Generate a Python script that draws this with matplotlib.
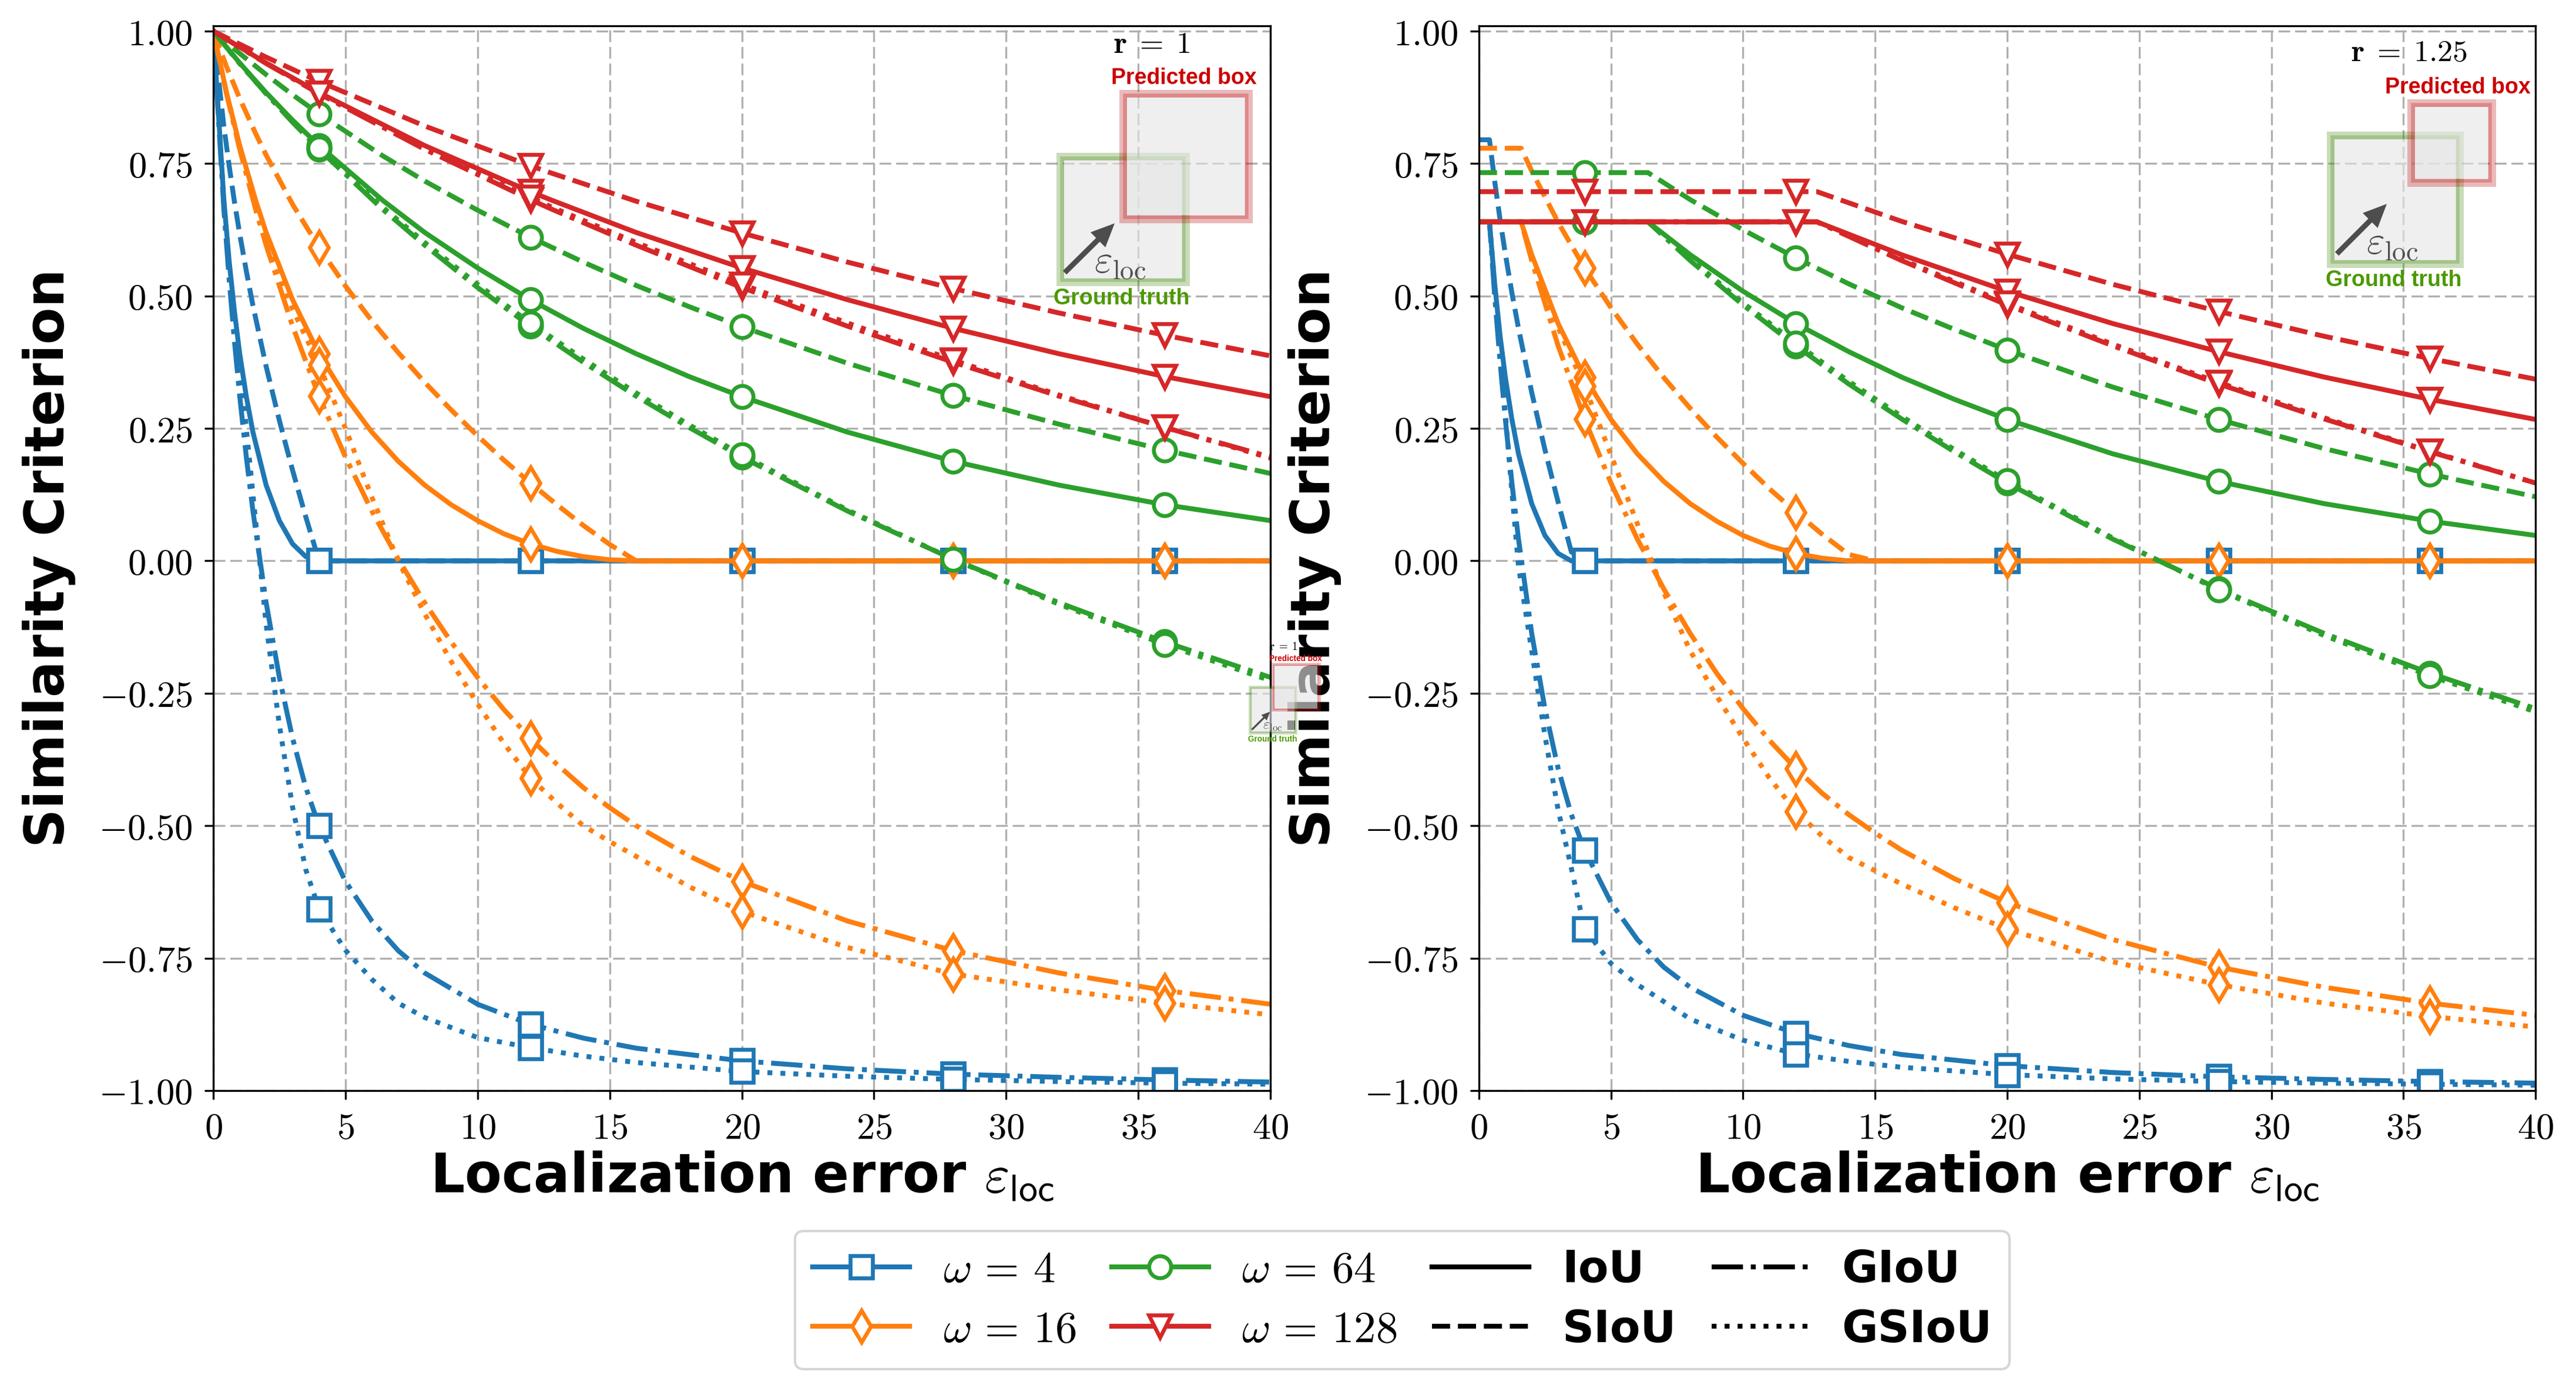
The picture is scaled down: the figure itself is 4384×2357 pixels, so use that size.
import matplotlib
matplotlib.use("Agg")
import matplotlib.pyplot as plt
from matplotlib.lines import Line2D
from matplotlib.patches import Rectangle, FancyArrow

# ---- data ------------------------------------------------------------------
OMEGAS = [4, 16, 64, 128]
MARK_X = [4, 12, 20, 28, 36]

X4 = [0, 0.4, 0.6, 0.8, 1, 1.25, 1.5, 2, 2.5, 3, 3.5, 4, 5, 6, 7, 8, 10, 12, 14, 16, 20, 24, 28, 32, 36, 40]
X16 = [0, 0.5, 1, 1.6, 2, 3, 4, 5, 6, 7, 8, 9, 10, 11, 12, 13, 14, 15, 16, 18, 20, 24, 28, 32, 36, 40]
X64 = [0, 1, 2, 3, 4, 6.4, 8, 10, 12, 14, 16, 18, 20, 24, 28, 32, 36, 40]
X128 = [0, 2, 4, 8, 12, 12.8, 16, 20, 24, 28, 32, 36, 40]

# left panel, r = 1
IOU_R1 = {
    4: [1.0, 0.681, 0.566, 0.471, 0.391, 0.310, 0.243, 0.143, 0.076, 0.032, 0.008, 0, 0, 0, 0, 0, 0, 0, 0, 0, 0, 0, 0, 0, 0, 0],
    16: [1.0, 0.884, 0.784, 0.681, 0.620, 0.493, 0.391, 0.310, 0.243, 0.188, 0.143, 0.106, 0.076, 0.051, 0.032,
         0.018, 0.008, 0.002, 0, 0, 0, 0, 0, 0, 0, 0],
    64: [1.0, 0.940, 0.884, 0.832, 0.784, 0.681, 0.620, 0.553, 0.493, 0.439, 0.391, 0.348, 0.310, 0.243, 0.188,
         0.143, 0.106, 0.076],
    128: [1.0, 0.940, 0.884, 0.784, 0.697, 0.681, 0.620, 0.553, 0.493, 0.439, 0.391, 0.348, 0.310],
}
SIOU_R1 = {
    4: [1.0, 0.820, 0.746, 0.678, 0.617, 0.547, 0.482, 0.367, 0.265, 0.171, 0.083, 0, 0, 0, 0, 0, 0, 0, 0, 0, 0, 0, 0, 0, 0, 0],
    16: [1.0, 0.933, 0.873, 0.807, 0.766, 0.673, 0.592, 0.519, 0.453, 0.393, 0.337, 0.285, 0.236, 0.190, 0.147,
         0.106, 0.067, 0.031, 0, 0, 0, 0, 0, 0, 0, 0],
    64: [1.0, 0.958, 0.918, 0.880, 0.844, 0.765, 0.717, 0.662, 0.611, 0.564, 0.520, 0.480, 0.442, 0.373, 0.312,
         0.258, 0.209, 0.165],
    128: [1.0, 0.951, 0.905, 0.821, 0.746, 0.732, 0.679, 0.619, 0.564, 0.514, 0.468, 0.426, 0.387],
}
GIOU_R1 = {
    4: [1.0, 0.664, 0.532, 0.415, 0.311, 0.196, 0.094, -0.079, -0.220, -0.335, -0.428, -0.5, -0.605, -0.68, -0.736,
        -0.778, -0.837, -0.875, -0.901, -0.92, -0.944, -0.959, -0.969, -0.975, -0.98, -0.984],
    16: [1.0, 0.882, 0.777, 0.664, 0.596, 0.443, 0.311, 0.196, 0.094, 0.003, -0.079, -0.153, -0.220, -0.281, -0.335,
         -0.384, -0.428, -0.466, -0.5, -0.557, -0.605, -0.68, -0.736, -0.778, -0.811, -0.837],
    64: [1.0, 0.939, 0.882, 0.828, 0.777, 0.664, 0.596, 0.516, 0.443, 0.375, 0.311, 0.252, 0.196, 0.094, 0.003,
         -0.079, -0.153, -0.220],
    128: [1.0, 0.939, 0.882, 0.777, 0.682, 0.664, 0.596, 0.516, 0.443, 0.375, 0.311, 0.252, 0.196],
}
GSIOU_R1 = {
    4: [1.0, 0.678, 0.56, 0.462, 0.37, 0.25, 0.125, -0.12, -0.31, -0.465, -0.583, -0.657, -0.735, -0.79, -0.835,
        -0.862, -0.90, -0.919, -0.935, -0.947, -0.964, -0.973, -0.979, -0.983, -0.986, -0.988],
    16: [1.0, 0.883, 0.782, 0.676, 0.612, 0.475, 0.37, 0.25, 0.12, 0.0, -0.10, -0.19, -0.27, -0.345, -0.41,
         -0.457, -0.50, -0.53, -0.558, -0.615, -0.662, -0.73, -0.78, -0.81, -0.835, -0.857],
    64: [1.0, 0.939, 0.882, 0.829, 0.779, 0.668, 0.601, 0.522, 0.449, 0.381, 0.317, 0.257, 0.200, 0.096, 0.003,
         -0.082, -0.158, -0.226],
    128: [1.0, 0.94, 0.883, 0.779, 0.686, 0.668, 0.601, 0.522, 0.449, 0.379, 0.313, 0.252, 0.194],
}

# right panel, r = 1.25
IOU_R125 = {
    4: [0.64, 0.64, 0.522, 0.426, 0.347, 0.267, 0.202, 0.108, 0.048, 0.014, 0.0, 0, 0, 0, 0, 0, 0, 0, 0, 0, 0, 0, 0, 0, 0, 0],
    16: [0.64, 0.64, 0.64, 0.64, 0.578, 0.448, 0.347, 0.267, 0.202, 0.150, 0.108, 0.075, 0.048, 0.028, 0.014,
         0.005, 0.0, 0, 0, 0, 0, 0, 0, 0, 0, 0],
    64: [0.64, 0.64, 0.64, 0.64, 0.64, 0.64, 0.578, 0.509, 0.448, 0.395, 0.347, 0.305, 0.267, 0.202, 0.150,
         0.108, 0.075, 0.048],
    128: [0.64, 0.64, 0.64, 0.64, 0.64, 0.64, 0.578, 0.509, 0.448, 0.395, 0.347, 0.305, 0.267],
}
SIOU_R125 = {
    4: [0.795, 0.795, 0.716, 0.645, 0.580, 0.506, 0.439, 0.318, 0.210, 0.111, 0.017, 0, 0, 0, 0, 0, 0, 0, 0, 0, 0, 0, 0, 0, 0, 0],
    16: [0.779, 0.779, 0.779, 0.779, 0.736, 0.639, 0.553, 0.478, 0.409, 0.346, 0.288, 0.234, 0.184, 0.136, 0.092,
         0.050, 0.012, 0, 0, 0, 0, 0, 0, 0, 0, 0],
    64: [0.733, 0.733, 0.733, 0.733, 0.733, 0.733, 0.682, 0.625, 0.572, 0.523, 0.478, 0.437, 0.398, 0.328, 0.267,
         0.212, 0.164, 0.121],
    128: [0.697, 0.697, 0.697, 0.697, 0.697, 0.697, 0.641, 0.579, 0.522, 0.471, 0.424, 0.382, 0.343],
}
GIOU_R125 = {
    4: [0.64, 0.64, 0.499, 0.377, 0.268, 0.147, 0.041, -0.137, -0.279, -0.392, -0.479, -0.546, -0.645, -0.715, -0.767,
        -0.805, -0.858, -0.892, -0.915, -0.932, -0.953, -0.966, -0.974, -0.979, -0.983, -0.986],
    16: [0.64, 0.64, 0.64, 0.64, 0.567, 0.406, 0.268, 0.147, 0.041, -0.053, -0.137, -0.212, -0.279, -0.339, -0.392,
         -0.439, -0.479, -0.514, -0.546, -0.600, -0.645, -0.715, -0.767, -0.805, -0.835, -0.858],
    64: [0.64, 0.64, 0.64, 0.64, 0.64, 0.64, 0.567, 0.483, 0.406, 0.334, 0.268, 0.206, 0.147, 0.041, -0.053,
         -0.137, -0.212, -0.279],
    128: [0.64, 0.64, 0.64, 0.64, 0.64, 0.64, 0.567, 0.483, 0.406, 0.334, 0.268, 0.206, 0.147],
}
GSIOU_R125 = {
    4: [0.64, 0.64, 0.52, 0.40, 0.28, 0.13, -0.01, -0.17, -0.33, -0.47, -0.58, -0.695, -0.76, -0.80, -0.832,
        -0.865, -0.905, -0.931, -0.945, -0.956, -0.970, -0.978, -0.983, -0.986, -0.988, -0.990],
    16: [0.64, 0.64, 0.64, 0.64, 0.575, 0.44, 0.33, 0.20, 0.07, -0.06, -0.17, -0.255, -0.335, -0.41, -0.473,
         -0.52, -0.56, -0.585, -0.61, -0.655, -0.695, -0.757, -0.80, -0.835, -0.86, -0.88],
    64: [0.64, 0.64, 0.64, 0.64, 0.64, 0.64, 0.570, 0.487, 0.411, 0.339, 0.273, 0.210, 0.151, 0.043, -0.055,
         -0.141, -0.217, -0.285],
    128: [0.64, 0.64, 0.64, 0.64, 0.64, 0.64, 0.569, 0.486, 0.409, 0.337, 0.27, 0.207, 0.147],
}

XS = {4: X4, 16: X16, 64: X64, 128: X128}
YTICKS = [-1.0, -0.75, -0.5, -0.25, 0.0, 0.25, 0.5, 0.75, 1.0]
XTICKS = [0, 5, 10, 15, 20, 25, 30, 35, 40]

# ---- style ------------------------------------------------------------------
COLORS = {4: "#1f77b4", 16: "#ff7f0e", 64: "#2ca02c", 128: "#d62728"}
MARKERS = {4: "s", 16: "d", 64: "o", 128: "v"}
STYLES = {"IoU": "-", "SIoU": "--", "GIoU": "-.", "GSIoU": ":"}

plt.rcParams.update({
    "mathtext.fontset": "cm",
    "font.family": "DejaVu Sans",
})

W, H = 4384, 2357
fig = plt.figure(figsize=(W / 300, H / 300), dpi=300)
ax_l = fig.add_axes([0.0828, 0.2126, 0.4104, 0.7689])
ax_r = fig.add_axes([0.5741, 0.2126, 0.4102, 0.7689])

panels = [
    (ax_l, {"IoU": IOU_R1, "SIoU": SIOU_R1, "GIoU": GIOU_R1, "GSIoU": GSIOU_R1}),
    (ax_r, {"IoU": IOU_R125, "SIoU": SIOU_R125, "GIoU": GIOU_R125, "GSIoU": GSIOU_R125}),
]


def tick_label(v, fmt):
    s = fmt % abs(v)
    return r"$-\mathbf{%s}$" % s if v < 0 else r"$\mathbf{%s}$" % s


for ax, data in panels:
    for w in OMEGAS:
        xs = XS[w]
        mk = [i for i, x in enumerate(xs) if x in MARK_X]
        for metric, ls in STYLES.items():
            ax.plot(xs, data[metric][w], ls=ls, color=COLORS[w], lw=2,
                    marker=MARKERS[w], markevery=mk, ms=9, mfc="white",
                    mec=COLORS[w], mew=1.6)
    ax.set_xlim(0, 40)
    ax.set_ylim(-1.0, 1.0105)
    ax.set_xticks(XTICKS)
    ax.set_xticklabels([tick_label(v, "%d") for v in XTICKS])
    ax.set_yticks(YTICKS)
    ax.set_yticklabels([tick_label(v, "%.2f") for v in YTICKS])
    ax.tick_params(labelsize=15, pad=5)
    ax.grid(True, color="#b0b0b0", ls=(0, (6, 2.5)), lw=0.8)
    ax.set_xlabel(r"Localization error $\varepsilon_{\mathsf{loc}}$", fontsize=22, fontweight="bold")
    ax.set_ylabel("Similarity Criterion", fontsize=22, fontweight="bold")
    ax.xaxis.set_label_coords(0.5, -0.056)
    ax.yaxis.set_label_coords(-0.130, 0.5)

handles = [Line2D([], [], color=COLORS[w], lw=2, marker=MARKERS[w], ms=9, mfc="white",
                  mec=COLORS[w], mew=1.6, label=r"$\omega\,=\,%d$" % w) for w in OMEGAS]
handles += [Line2D([], [], color="black", lw=2, ls=ls, label=m) for m, ls in STYLES.items()]
fig.legend(handles=handles, loc="upper center", bbox_to_anchor=(0.5444, 0.1111), ncol=4,
           prop={"weight": "bold", "size": 18}, handlelength=2.2, handletextpad=0.75,
           columnspacing=0.8, borderaxespad=0, labelspacing=0.38)

# ---- box sketches (drawn in pixel coordinates on a transparent overlay) ------
ov = fig.add_axes([0, 0, 1, 1], zorder=10)
ov.set_xlim(0, W)
ov.set_ylim(H, 0)
ov.axis("off")
PT = 72 / 300


def box(T, s, x0, y0, x1, y1, rgb):
    (a, b), (c, d) = T(x0, y0), T(x1, y1)
    band = 13 * s
    ov.add_patch(Rectangle((a + band, b + band), c - a - 2 * band, d - b - 2 * band,
                           fc="#e6e6e6", alpha=0.62, ec="none"))
    ov.add_patch(Rectangle((a + band / 2, b + band / 2), c - a - band, d - b - band,
                           fill=False, ec=rgb + (0.3,), lw=band * PT))
    ov.add_patch(Rectangle((a + band * 0.75, b + band * 0.75), c - a - 1.5 * band, d - b - 1.5 * band,
                           fill=False, ec=rgb + (0.3,), lw=band / 2 * PT))


def sketch(T, s, spec):
    box(T, s, *spec["gt"], (0.3, 0.55, 0.1))
    box(T, s, *spec["pred"], (0.75, 0.1, 0.1))
    (ax0, ay0), (ax1, ay1) = T(*spec["arrow"][0]), T(*spec["arrow"][1])
    ov.add_patch(FancyArrow(ax0, ay0, ax1 - ax0, ay1 - ay0, width=9 * s, head_width=36 * s,
                            head_length=40 * s, length_includes_head=True, color="#4d4d4d", lw=0))
    ov.text(*T(*spec["eps"]), r"$\varepsilon_{\mathrm{loc}}$", fontsize=16 * s, color="#505050",
            ha="left", va="center")
    ov.text(*T(*spec["r_xy"]), spec["r"], fontsize=12.5 * s, color="black", ha="center", va="center")
    ov.text(*T(*spec["pred_xy"]), "Predicted box", fontsize=9 * s, color="#cc0000",
            family="Liberation Sans", weight="bold", ha="center", va="center")
    ov.text(*T(*spec["gt_xy"]), "Ground truth", fontsize=9 * s, color="#4c9900",
            family="Liberation Sans", weight="bold", ha="center", va="center")


SKETCH_L = dict(r=r"$\mathbf{r\;=\;1}$", r_xy=(1960, 76), pred_xy=(2015, 133),
                pred=(1904, 152, 2131, 379), gt=(1797, 259, 2024, 486),
                arrow=((1812, 464), (1897, 380)), eps=(1862, 445), gt_xy=(1909, 508))
SKETCH_R = dict(r=r"$\mathbf{r\;=\;1.25}$", r_xy=(4100, 90), pred_xy=(4183, 149),
                pred=(4096, 168, 4247, 317), gt=(3959, 223, 4192, 455),
                arrow=((3977, 432), (4062, 347)), eps=(4027, 413), gt_xy=(4074, 477))


def ident(x, y):
    return x, y


def tiny(x, y):
    return 2125 + 0.365 * (x - 1797), 1167 + 0.365 * (y - 259)


sketch(ident, 1.0, SKETCH_L)
sketch(ident, 1.0, SKETCH_R)
sketch(tiny, 0.365, SKETCH_L)

fig.savefig("out.png", dpi=300)
